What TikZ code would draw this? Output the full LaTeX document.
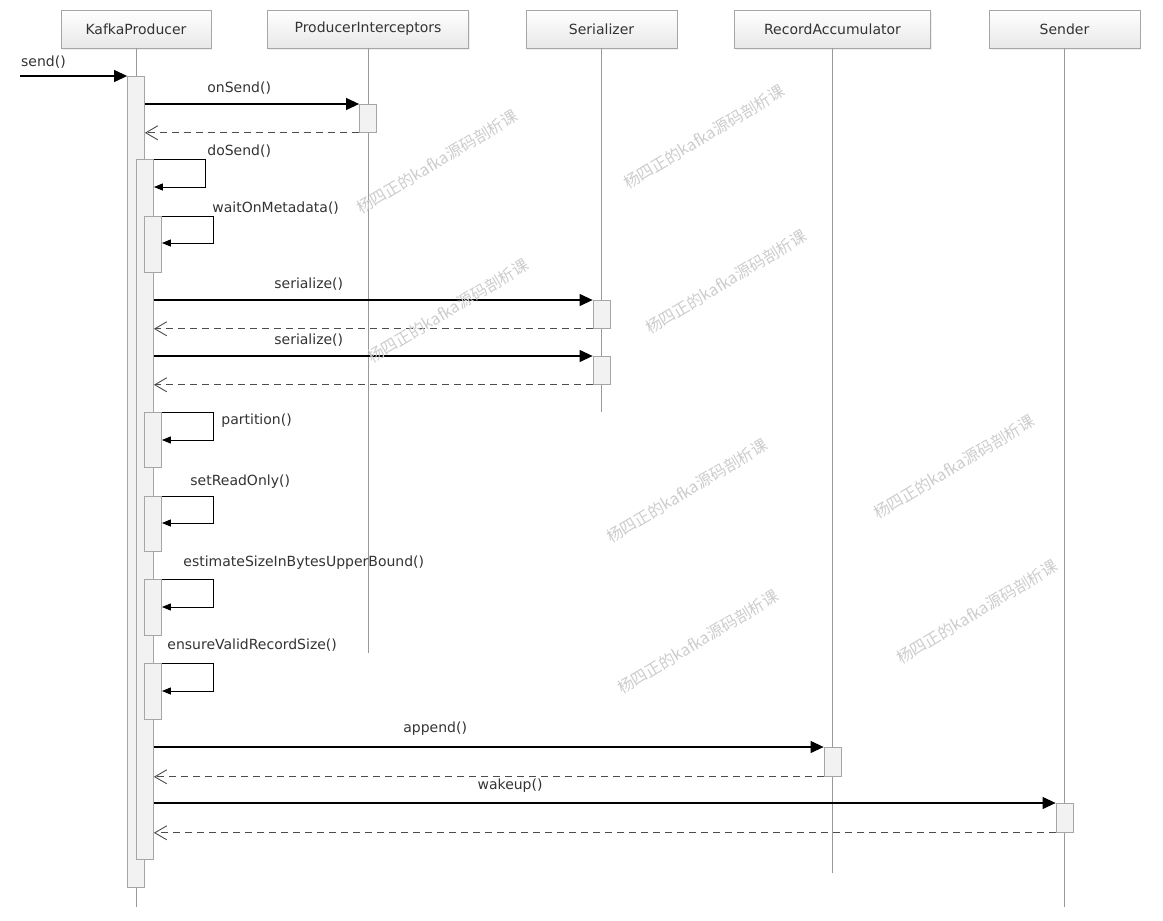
\documentclass[tikz,border=0pt]{standalone}
\usepackage{fontspec}
\setmainfont{DejaVu Sans}
\newfontfamily\cjk{Noto Sans CJK SC}
\usetikzlibrary{arrows.meta,shadows}

\tikzset{
  head/.style={draw=black!35, top color=white, bottom color=black!9, minimum width=150pt, minimum height=38pt, inner sep=0pt, text=black!80, drop shadow={opacity=0.12, shadow xshift=1pt, shadow yshift=-1.5pt}},
  life/.style={draw=black!40, line width=0.9pt},
  bar/.style={draw=black!35, fill=black!5, line width=0.8pt, minimum width=17pt, inner sep=0pt, anchor=north},
  call/.style={draw=black, line width=1.1pt, -{Triangle[length=13pt,width=12pt]}},
  ret/.style={draw=black!70, line width=0.9pt, dash pattern=on 7pt off 5pt, -{Straight Barb[length=12pt,width=14pt]}},
  self/.style={draw=black, line width=1pt, -{Triangle[length=9pt,width=7pt]}},
  lbl/.style={inner sep=0pt, text=black!80},
  msg/.style={lbl, anchor=south},
  selflbl/.style={lbl, anchor=south west},
  wmark/.style={text=black!20, rotate=31, inner sep=0pt, font=\cjk\fontsize{16}{16}\selectfont}
}

\begin{document}
\begin{tikzpicture}[x=1pt, y=-1pt, font=\fontsize{14}{17}\selectfont]
\useasboundingbox (0,0) rectangle (1163,921);

\node[head] (kp) at (136,29) {KafkaProducer};
\node[head, minimum width=201pt] (pi) at (368,29) {ProducerInterceptors};
\node[head, minimum width=151pt] (ser) at (601.5,29) {Serializer};
\node[head, minimum width=196pt] (ra) at (832.5,29) {RecordAccumulator};
\node[head, minimum width=151pt] (snd) at (1064.5,29) {Sender};

\coordinate (kpend) at (136,907);
\coordinate (piend) at (368,653);
\coordinate (serend) at (601.5,412);
\coordinate (raend) at (832.5,873);
\coordinate (sndend) at (1064.5,907);
\draw[life] (kp.south) -- (kpend);
\draw[life] (pi.south) -- (piend);
\draw[life] (ser.south) -- (serend);
\draw[life] (ra.south) -- (raend);
\draw[life] (snd.south) -- (sndend);

\node[bar, minimum height=811pt] (kpb) at (136,76) {};
\node[bar, minimum height=700pt] (dos) at (145,159) {};
\node[bar, minimum height=56pt] (wom) at (153,216) {};
\node[bar, minimum height=55pt] (par) at (153,412) {};
\node[bar, minimum height=55pt] (sro) at (153,496) {};
\node[bar, minimum height=56pt] (est) at (153,579) {};
\node[bar, minimum height=56pt] (evr) at (153,663) {};
\node[bar, minimum height=28pt] (pib) at (368,104) {};
\node[bar, minimum height=28pt] (ser1) at (601.5,300) {};
\node[bar, minimum height=28pt] (ser2) at (601.5,356) {};
\node[bar, minimum height=29pt] (rab) at (832.5,747) {};
\node[bar, minimum height=29pt] (sndb) at (1064.5,803) {};

\coordinate (start) at (20,76);
\draw[call] (start) -- (kpb.north west);
\node[selflbl] (sendl) at (21,69) {send()};

\draw[call] (kpb.east |- pib.north) -- (pib.north west) node[msg, pos=.44, yshift=9pt] (onsendl) {onSend()};
\draw[ret] (pib.south west) -- (kpb.east |- pib.south);

\draw[self] (dos.north east) -- ++(52,0) node[selflbl, xshift=1pt, yshift=1pt] (dosendl) {doSend()} -- ++(0,28) -- ++(-52,0);
\draw[self] (wom.north east) -- ++(52,0) node[selflbl, xshift=-2pt, yshift=1pt] (woml) {waitOnMetadata()} -- ++(0,27) -- ++(-52,0);

\draw[call] (dos.east |- ser1.north) -- (ser1.north west) node[msg, pos=.353, yshift=9pt] (ser1l) {serialize()};
\draw[ret] (ser1.south west) -- (dos.east |- ser1.south);
\draw[call] (dos.east |- ser2.north) -- (ser2.north west) node[msg, pos=.353, yshift=9pt] (ser2l) {serialize()};
\draw[ret] (ser2.south west) -- (dos.east |- ser2.south);

\draw[self] (par.north east) -- ++(52,0) node[lbl, anchor=north west, xshift=7pt, yshift=-1pt] (parl) {partition()} -- ++(0,28) -- ++(-52,0);
\draw[self] (sro.north east) -- ++(52,0) node[selflbl, xshift=-24pt, yshift=7pt] (srol) {setReadOnly()} -- ++(0,27) -- ++(-52,0);
\draw[self] (est.north east) -- ++(52,0) node[selflbl, xshift=-31pt, yshift=9pt] (estl) {estimateSizeInBytesUpperBound()} -- ++(0,28) -- ++(-52,0);
\draw[self] (evr.north east) -- ++(52,0) node[selflbl, xshift=-47pt, yshift=11pt] (evrl) {ensureValidRecordSize()} -- ++(0,28) -- ++(-52,0);

\draw[call] (dos.east |- rab.north) -- (rab.north west) node[msg, pos=.42, yshift=11pt] (appendl) {append()};
\draw[ret] (rab.south west) -- (dos.east |- rab.south);
\draw[call] (dos.east |- sndb.north) -- (sndb.north west) node[msg, pos=.395, yshift=10pt] (wakeupl) {wakeup()};
\draw[ret] (sndb.south west) -- (dos.east |- sndb.south);

\node[wmark] (wm1) at (437,162) {杨四正的kafka源码剖析课};
\node[wmark] (wm2) at (704,137) {杨四正的kafka源码剖析课};
\node[wmark] (wm3) at (448,311) {杨四正的kafka源码剖析课};
\node[wmark] (wm4) at (726,282) {杨四正的kafka源码剖析课};
\node[wmark] (wm5) at (687,491) {杨四正的kafka源码剖析课};
\node[wmark] (wm6) at (954,467) {杨四正的kafka源码剖析课};
\node[wmark] (wm7) at (698,642) {杨四正的kafka源码剖析课};
\node[wmark] (wm8) at (977,612) {杨四正的kafka源码剖析课};
\end{tikzpicture}
\end{document}
